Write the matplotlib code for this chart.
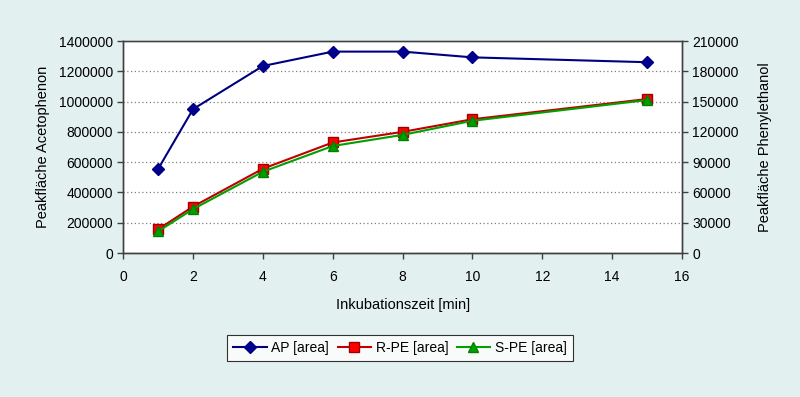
import matplotlib
matplotlib.use("Agg")
import matplotlib.pyplot as plt
from matplotlib.ticker import MultipleLocator, FuncFormatter

plt.rcParams['font.family'] = ['Liberation Sans', 'DejaVu Sans']

time_min = [1, 2, 4, 6, 8, 10, 15]
ap_area = [555000, 950000, 1235000, 1330000, 1330000, 1292000, 1260000]
rpe_area = [23500, 46000, 83500, 109500, 120000, 132500, 152500]
spe_area = [21500, 43500, 80500, 106000, 117000, 131000, 151500]

bg = '#E3F0F0'
fig = plt.figure(figsize=(8, 3.97), dpi=100, facecolor=bg)
ax = fig.add_axes([0.154, 0.3627, 0.6985, 0.534])
ax.set_facecolor('white')
ax2 = ax.twinx()

l1, = ax.plot(time_min, ap_area, color='#000080', lw=1.5, marker='D', ms=6.5,
              mfc='#000090', mec='#000080', label='AP [area]', zorder=3)
l2, = ax2.plot(time_min, rpe_area, color='#C00000', lw=1.5, marker='s', ms=7.5,
               mfc='#FF0000', mec='#A00000', label='R-PE [area]', zorder=3)
l3, = ax2.plot(time_min, spe_area, color='#00A000', lw=1.5, marker='^', ms=7.5,
               mfc='#00A000', mec='#008000', label='S-PE [area]', zorder=4)

ax.set_xlim(0, 16)
ax.set_ylim(0, 1400000)
ax2.set_ylim(0, 210000)
ax.xaxis.set_major_locator(MultipleLocator(2))
ax.yaxis.set_major_locator(MultipleLocator(200000))
ax2.yaxis.set_major_locator(MultipleLocator(30000))
fmt = FuncFormatter(lambda v, p: '%d' % round(v))
ax.yaxis.set_major_formatter(fmt)
ax2.yaxis.set_major_formatter(fmt)

ax.yaxis.grid(True, linestyle=(0, (1, 2)), color='#808080', lw=0.9)
ax.set_axisbelow(True)

for a in (ax, ax2):
    for s in a.spines.values():
        s.set_color('#404040')
        s.set_linewidth(1.0)
    a.tick_params(direction='out', length=4, width=1, colors='#404040',
                  labelcolor='black', labelsize=10)
ax.spines['top'].set_color('#808080')
ax.tick_params(axis='x', pad=8)

ax.set_xlabel('Inkubationszeit [min]', fontsize=10.5, labelpad=10)
ax.set_ylabel('Peakfläche Acetophenon', fontsize=10.5, labelpad=6)
ax2.set_ylabel('Peakfläche Phenylethanol', fontsize=10.5, labelpad=14)

leg = fig.legend(handles=[l1, l2, l3], loc='center', bbox_to_anchor=(0.5, 0.123),
                 ncol=3, fontsize=10, frameon=True, fancybox=False,
                 handlelength=2.4, columnspacing=0.6, handletextpad=0.35,
                 borderpad=0.45)
leg.get_frame().set_edgecolor('black')
leg.get_frame().set_linewidth(0.8)
leg.get_frame().set_facecolor('white')

fig.savefig('out.png', dpi=100, facecolor=bg)
